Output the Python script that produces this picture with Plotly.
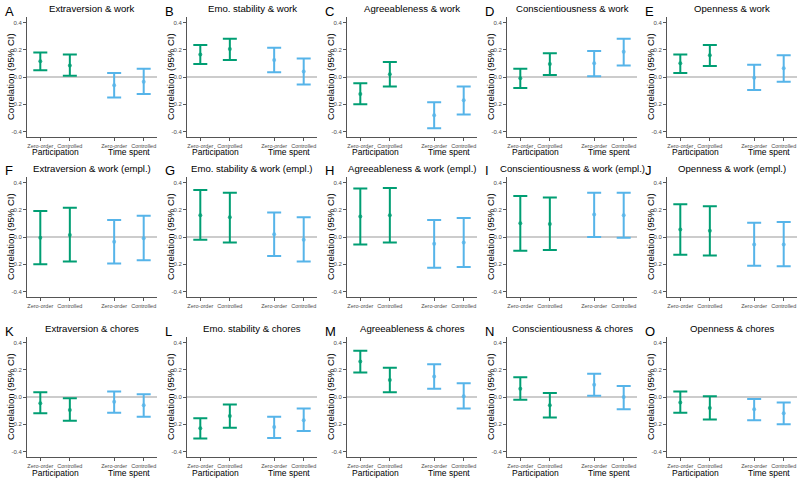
import plotly.graph_objects as go

letters = ["A","B","C","D","E","F","G","H","I","J","K","L","M","N","O"]
titles = [
    "Extraversion & work", "Emo. stability & work", "Agreeableness & work",
    "Conscientiousness & work", "Openness & work",
    "Extraversion & work (empl.)", "Emo. stability & work (empl.)",
    "Agreeableness & work (empl.)", "Conscientiousness & work (empl.)",
    "Openness & work (empl.)",
    "Extraversion & chores", "Emo. stability & chores", "Agreeableness & chores",
    "Conscientiousness & chores", "Openness & chores",
]
categories = ["Zero-order", "Controlled", "Zero-order", "Controlled"]
cat_pos = [1, 2, 3.5, 4.5]
groups = ["Participation", "Time spent"]
group_pos = [1.5, 4.0]

# order per panel: Participation zero-order, Participation controlled, Time zero-order, Time controlled
estimate = [
    [0.115, 0.085, -0.06, -0.035],
    [0.165, 0.205, 0.125, 0.04],
    [-0.125, 0.02, -0.28, -0.17],
    [-0.01, 0.095, 0.10, 0.185],
    [0.10, 0.16, -0.005, 0.065],
    [-0.005, 0.015, -0.035, -0.01],
    [0.16, 0.145, 0.02, -0.02],
    [0.15, 0.16, -0.05, -0.04],
    [0.10, 0.095, 0.165, 0.16],
    [0.055, 0.045, -0.055, -0.055],
    [-0.045, -0.095, -0.035, -0.06],
    [-0.23, -0.14, -0.22, -0.17],
    [0.26, 0.125, 0.15, 0.005],
    [0.06, -0.06, 0.09, 0.0],
    [-0.04, -0.08, -0.09, -0.12],
]
lower = [
    [0.05, 0.01, -0.15, -0.125],
    [0.095, 0.125, 0.035, -0.055],
    [-0.20, -0.07, -0.375, -0.275],
    [-0.08, 0.015, 0.005, 0.085],
    [0.03, 0.08, -0.095, -0.035],
    [-0.20, -0.18, -0.195, -0.17],
    [-0.02, -0.04, -0.14, -0.18],
    [-0.055, -0.04, -0.225, -0.22],
    [-0.10, -0.095, 0.0, -0.005],
    [-0.13, -0.135, -0.21, -0.215],
    [-0.12, -0.175, -0.115, -0.145],
    [-0.305, -0.225, -0.30, -0.25],
    [0.18, 0.035, 0.06, -0.085],
    [-0.02, -0.15, 0.01, -0.09],
    [-0.115, -0.165, -0.17, -0.20],
]
upper = [
    [0.18, 0.165, 0.03, 0.06],
    [0.235, 0.28, 0.215, 0.135],
    [-0.045, 0.11, -0.185, -0.07],
    [0.06, 0.175, 0.19, 0.28],
    [0.165, 0.235, 0.09, 0.16],
    [0.19, 0.215, 0.125, 0.155],
    [0.345, 0.325, 0.18, 0.145],
    [0.355, 0.36, 0.125, 0.14],
    [0.30, 0.29, 0.325, 0.325],
    [0.24, 0.225, 0.105, 0.11],
    [0.035, -0.01, 0.04, 0.02],
    [-0.155, -0.055, -0.145, -0.085],
    [0.34, 0.215, 0.24, 0.10],
    [0.145, 0.03, 0.17, 0.08],
    [0.04, 0.005, -0.015, -0.04],
]
y_ticks = [-0.4, -0.2, 0.0, 0.2, 0.4]
y_ticktext = ["-0.4", "-0.2", "0.0", "0.2", "0.4"]

colors = ["#009E73", "#009E73", "#56B4E9", "#56B4E9"]
W, H = 800, 480
FONT = "Liberation Sans, Arial, sans-serif"

fig = go.Figure()
layout = dict(width=W, height=H, autosize=False, margin=dict(l=0, r=0, t=0, b=0),
              paper_bgcolor="white", plot_bgcolor="white", showlegend=False,
              font=dict(family=FONT))
annotations = []

for i in range(15):
    r, c = divmod(i, 5)
    sfx = "" if i == 0 else str(i + 1)
    x0, x1 = 160 * c + 27, 160 * c + 157
    y0, y1 = 160 * r + 17, 160 * r + 137
    layout["xaxis" + sfx] = dict(
        domain=[x0 / W, x1 / W], anchor="y" + sfx, range=[0.55, 4.95],
        tickvals=cat_pos, ticktext=categories, tickangle=0, showgrid=False,
        zeroline=False, showline=True, linecolor="#555", linewidth=1,
        ticks="outside", ticklen=3, tickcolor="#555",
        tickfont=dict(size=5.5, color="#4d4d4d", family=FONT), fixedrange=True)
    layout["yaxis" + sfx] = dict(
        domain=[1 - y1 / H, 1 - y0 / H], anchor="x" + sfx, range=[-0.44, 0.44],
        tickvals=y_ticks, ticktext=y_ticktext, showgrid=False,
        zeroline=True, zerolinecolor="#cccccc", zerolinewidth=1.4,
        showline=True, linecolor="#555", linewidth=1, ticks="outside", ticklen=3,
        tickcolor="#555", tickfont=dict(size=6, color="#4d4d4d", family=FONT),
        fixedrange=True)

    for k in range(4):
        fig.add_trace(go.Scatter(
            x=[cat_pos[k]], y=[estimate[i][k]], mode="markers",
            xaxis="x" + sfx, yaxis="y" + sfx,
            marker=dict(color=colors[k], size=4, opacity=0.8),
            error_y=dict(type="data", symmetric=False,
                         array=[upper[i][k] - estimate[i][k]],
                         arrayminus=[estimate[i][k] - lower[i][k]],
                         color=colors[k], thickness=2, width=7),
            hoverinfo="skip"))

    annotations.append(dict(x=(160 * c + 3) / W, y=1 - (160 * r + 11) / H,
                            xref="paper", yref="paper", text=letters[i],
                            showarrow=False, xanchor="left", yanchor="middle",
                            font=dict(size=13, color="black", family=FONT)))
    annotations.append(dict(x=(x0 + x1) / 2 / W, y=1 - (160 * r + 8) / H,
                            xref="paper", yref="paper", text=titles[i],
                            showarrow=False, xanchor="center", yanchor="middle",
                            font=dict(size=9.6, color="black", family=FONT)))
    annotations.append(dict(x=(160 * c + 10) / W, y=1 - (160 * r + 77) / H,
                            xref="paper", yref="paper", text="Correlation (95% CI)",
                            textangle=-90, showarrow=False, xanchor="center",
                            yanchor="middle",
                            font=dict(size=9.5, color="black", family=FONT)))
    if r != 1:
        for g, gp in zip(groups, group_pos):
            annotations.append(dict(x=gp, y=1 - (160 * r + 152.5) / H,
                                    xref="x" + sfx, yref="paper", text=g,
                                    showarrow=False, xanchor="center",
                                    yanchor="middle",
                                    font=dict(size=8.5, color="black", family=FONT)))

layout["annotations"] = annotations
fig.update_layout(**layout)
fig.write_html("out.html", config={"displayModeBar": False, "staticPlot": True})

# remove the default page margin so the 800x480 figure fills the window exactly
with open("out.html", "r", encoding="utf-8") as f:
    html = f.read()
html = html.replace("<head>", "<head><style>html,body{margin:0;padding:0;overflow:hidden;}</style>", 1)
with open("out.html", "w", encoding="utf-8") as f:
    f.write(html)
